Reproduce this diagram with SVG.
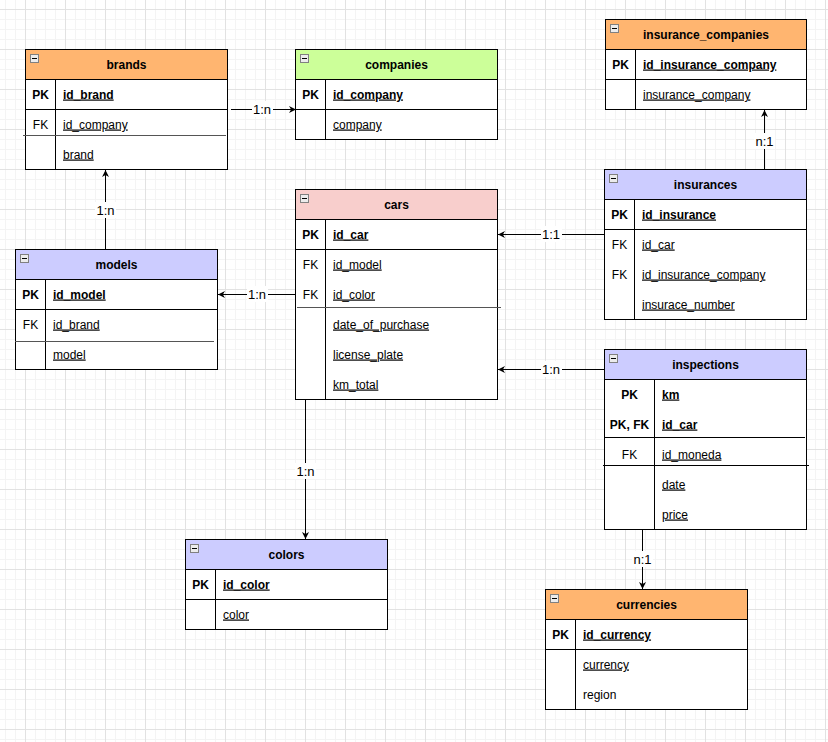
<svg xmlns="http://www.w3.org/2000/svg" width="828" height="742" viewBox="0 0 828 742">
<defs>
<pattern id="grid" x="25" y="9" width="40" height="40" patternUnits="userSpaceOnUse">
<rect x="0" y="0" width="40" height="40" fill="#ffffff"/>
<rect x="10" y="0" width="1" height="40" fill="#f4f4f4"/>
<rect x="20" y="0" width="1" height="40" fill="#f4f4f4"/>
<rect x="30" y="0" width="1" height="40" fill="#f4f4f4"/>
<rect x="0" y="10" width="40" height="1" fill="#f4f4f4"/>
<rect x="0" y="20" width="40" height="1" fill="#f4f4f4"/>
<rect x="0" y="30" width="40" height="1" fill="#f4f4f4"/>
<rect x="0" y="0" width="1" height="40" fill="#e2e2e2"/>
<rect x="0" y="0" width="40" height="1" fill="#e2e2e2"/>
</pattern>
<marker id="arr" viewBox="0 0 10 10" refX="10" refY="5" markerWidth="7" markerHeight="7" markerUnits="userSpaceOnUse" orient="auto">
<path d="M0,0 L10,5 L0,10 L3,5 z" fill="#000"/>
</marker>
<g id="minus">
<rect x="5.5" y="5.5" width="8" height="8" fill="#ececec" stroke="#808080"/>
<line x1="7" y1="9.5" x2="12" y2="9.5" stroke="#000" stroke-width="1"/>
</g>
</defs>
<style>
.box{fill:#fff;stroke:#000;stroke-width:1}
.hd{stroke:#000;stroke-width:1}
.ln{stroke:#000;stroke-width:1;fill:none}
.odd{stroke:#555;stroke-width:1;fill:none}
.t{font-family:"Liberation Sans",Arial,sans-serif;font-size:12px;fill:#000}
.h{font-weight:bold;text-anchor:middle}
.k{text-anchor:middle}
.b{font-weight:bold}
.u{text-decoration:underline}
.lbl{font-family:"Liberation Sans",Arial,sans-serif;font-size:13px;fill:#000;text-anchor:middle}
.conn{stroke:#000;stroke-width:1;fill:none;marker-end:url(#arr)}
</style>
<rect x="0" y="0" width="828" height="742" fill="url(#grid)"/>

<g id="connectors">
<line class="conn" x1="231" y1="109.5" x2="296" y2="109.5"/>
<rect x="252" y="101" width="21" height="16" fill="#fff"/>
<text class="lbl" x="262" y="114">1:n</text>

<line class="conn" x1="764.5" y1="169" x2="764.5" y2="110"/>
<rect x="754" y="133" width="21" height="16" fill="#fff"/>
<text class="lbl" x="764.5" y="146">n:1</text>

<line class="conn" x1="604" y1="234.5" x2="498" y2="234.5"/>
<rect x="541" y="226" width="21" height="16" fill="#fff"/>
<text class="lbl" x="551" y="239">1:1</text>

<line class="conn" x1="604" y1="369.5" x2="498" y2="369.5"/>
<rect x="541" y="361" width="21" height="16" fill="#fff"/>
<text class="lbl" x="551" y="374">1:n</text>

<line class="conn" x1="295" y1="294.5" x2="218" y2="294.5"/>
<rect x="247" y="286" width="21" height="16" fill="#fff"/>
<text class="lbl" x="257" y="299">1:n</text>

<line class="conn" x1="105.5" y1="249" x2="105.5" y2="170"/>
<rect x="95" y="202" width="21" height="16" fill="#fff"/>
<text class="lbl" x="105.5" y="215">1:n</text>

<line class="conn" x1="305.5" y1="400" x2="305.5" y2="539"/>
<rect x="295" y="463" width="21" height="16" fill="#fff"/>
<text class="lbl" x="305.5" y="476">1:n</text>

<line class="conn" x1="642.5" y1="529" x2="642.5" y2="589"/>
<rect x="632" y="551" width="21" height="16" fill="#fff"/>
<text class="lbl" x="642.5" y="564">n:1</text>
</g>

<g id="brands">
<rect class="box" x="25.5" y="49.5" width="202" height="120"/>
<rect class="hd" x="25.5" y="49.5" width="202" height="30" fill="#FFB570"/>
<use href="#minus" x="25" y="49"/>
<text class="t h" x="126.5" y="68.5">brands</text>
<line class="ln" x1="55.5" y1="79.5" x2="55.5" y2="169.5"/>
<line class="ln" x1="25.5" y1="109.5" x2="227.5" y2="109.5"/>
<line class="odd" x1="23" y1="135.5" x2="226" y2="135.5"/>
<text class="t k b" x="40.5" y="98.5">PK</text>
<text class="t b u" x="63" y="98.5">id_brand</text>
<text class="t k" x="40.5" y="128.5">FK</text>
<text class="t u" x="63" y="128.5">id_company</text>
<text class="t u" x="63" y="158.5">brand</text>
</g>

<g id="companies">
<rect class="box" x="295.5" y="49.5" width="202" height="90"/>
<rect class="hd" x="295.5" y="49.5" width="202" height="30" fill="#CCFF99"/>
<use href="#minus" x="295" y="49"/>
<text class="t h" x="396.5" y="68.5">companies</text>
<line class="ln" x1="325.5" y1="79.5" x2="325.5" y2="139.5"/>
<line class="ln" x1="295.5" y1="109.5" x2="497.5" y2="109.5"/>
<text class="t k b" x="310.5" y="98.5">PK</text>
<text class="t b u" x="333" y="98.5">id_company</text>
<text class="t u" x="333" y="128.5">company</text>
</g>

<g id="insurance_companies">
<rect class="box" x="605.5" y="19.5" width="201" height="90"/>
<rect class="hd" x="605.5" y="19.5" width="201" height="30" fill="#FFB570"/>
<use href="#minus" x="605" y="19"/>
<text class="t h" x="706" y="38.5">insurance_companies</text>
<line class="ln" x1="635.5" y1="49.5" x2="635.5" y2="109.5"/>
<line class="ln" x1="605.5" y1="79.5" x2="806.5" y2="79.5"/>
<text class="t k b" x="620.5" y="68.5">PK</text>
<text class="t b u" x="643" y="68.5">id_insurance_company</text>
<text class="t u" x="643" y="98.5">insurance_company</text>
</g>

<g id="insurances">
<rect class="box" x="604.5" y="169.5" width="202" height="150"/>
<rect class="hd" x="604.5" y="169.5" width="202" height="30" fill="#CCCCFF"/>
<use href="#minus" x="604" y="169"/>
<text class="t h" x="705.5" y="188.5">insurances</text>
<line class="ln" x1="634.5" y1="199.5" x2="634.5" y2="319.5"/>
<line class="ln" x1="604.5" y1="229.5" x2="806.5" y2="229.5"/>
<text class="t k b" x="619.5" y="218.5">PK</text>
<text class="t b u" x="642" y="218.5">id_insurance</text>
<text class="t k" x="619.5" y="248.5">FK</text>
<text class="t u" x="642" y="248.5">id_car</text>
<text class="t k" x="619.5" y="278.5">FK</text>
<text class="t u" x="642" y="278.5">id_insurance_company</text>
<text class="t u" x="642" y="308.5">insurace_number</text>
</g>

<g id="cars">
<rect class="box" x="295.5" y="189.5" width="202" height="210"/>
<rect class="hd" x="295.5" y="189.5" width="202" height="30" fill="#F8CECC"/>
<use href="#minus" x="295" y="189"/>
<text class="t h" x="396.5" y="208.5">cars</text>
<line class="ln" x1="325.5" y1="219.5" x2="325.5" y2="399.5"/>
<line class="ln" x1="295.5" y1="249.5" x2="497.5" y2="249.5"/>
<line class="odd" x1="297" y1="307.5" x2="501" y2="307.5"/>
<text class="t k b" x="310.5" y="238.5">PK</text>
<text class="t b u" x="333" y="238.5">id_car</text>
<text class="t k" x="310.5" y="268.5">FK</text>
<text class="t u" x="333" y="268.5">id_model</text>
<text class="t k" x="310.5" y="298.5">FK</text>
<text class="t u" x="333" y="298.5">id_color</text>
<text class="t u" x="333" y="328.5">date_of_purchase</text>
<text class="t u" x="333" y="358.5">license_plate</text>
<text class="t u" x="333" y="388.5">km_total</text>
</g>

<g id="models">
<rect class="box" x="15.5" y="249.5" width="202" height="120"/>
<rect class="hd" x="15.5" y="249.5" width="202" height="30" fill="#CCCCFF"/>
<use href="#minus" x="15" y="249"/>
<text class="t h" x="116.5" y="268.5">models</text>
<line class="ln" x1="45.5" y1="279.5" x2="45.5" y2="369.5"/>
<line class="ln" x1="15.5" y1="309.5" x2="217.5" y2="309.5"/>
<line class="odd" x1="15" y1="341.5" x2="214" y2="341.5"/>
<text class="t k b" x="30.5" y="298.5">PK</text>
<text class="t b u" x="53" y="298.5">id_model</text>
<text class="t k" x="30.5" y="328.5">FK</text>
<text class="t u" x="53" y="328.5">id_brand</text>
<text class="t u" x="53" y="358.5">model</text>
</g>

<g id="inspections">
<rect class="box" x="604.5" y="349.5" width="202" height="180"/>
<rect class="hd" x="604.5" y="349.5" width="202" height="30" fill="#CCCCFF"/>
<use href="#minus" x="604" y="349"/>
<text class="t h" x="705.5" y="368.5">inspections</text>
<line class="ln" x1="654.5" y1="379.5" x2="654.5" y2="529.5"/>
<line class="ln" x1="604" y1="437.5" x2="805" y2="437.5"/>
<line class="ln" x1="603" y1="465.5" x2="809" y2="465.5"/>
<text class="t k b" x="629.5" y="398.5">PK</text>
<text class="t b u" x="662" y="398.5">km</text>
<text class="t k b" x="629.5" y="428.5">PK, FK</text>
<text class="t b u" x="662" y="428.5">id_car</text>
<text class="t k" x="629.5" y="458.5">FK</text>
<text class="t u" x="662" y="458.5">id_moneda</text>
<text class="t u" x="662" y="488.5">date</text>
<text class="t u" x="662" y="518.5">price</text>
</g>

<g id="colors">
<rect class="box" x="185.5" y="539.5" width="202" height="90"/>
<rect class="hd" x="185.5" y="539.5" width="202" height="30" fill="#CCCCFF"/>
<use href="#minus" x="185" y="539"/>
<text class="t h" x="286.5" y="558.5">colors</text>
<line class="ln" x1="215.5" y1="569.5" x2="215.5" y2="629.5"/>
<line class="ln" x1="185.5" y1="599.5" x2="387.5" y2="599.5"/>
<text class="t k b" x="200.5" y="588.5">PK</text>
<text class="t b u" x="223" y="588.5">id_color</text>
<text class="t u" x="223" y="618.5">color</text>
</g>

<g id="currencies">
<rect class="box" x="545.5" y="589.5" width="202" height="120"/>
<rect class="hd" x="545.5" y="589.5" width="202" height="30" fill="#FFB570"/>
<use href="#minus" x="545" y="589"/>
<text class="t h" x="646.5" y="608.5">currencies</text>
<line class="ln" x1="575.5" y1="619.5" x2="575.5" y2="709.5"/>
<line class="ln" x1="545.5" y1="649.5" x2="747.5" y2="649.5"/>
<text class="t k b" x="560.5" y="638.5">PK</text>
<text class="t b u" x="583" y="638.5">id_currency</text>
<text class="t u" x="583" y="668.5">currency</text>
<text class="t" x="583" y="698.5">region</text>
</g>
</svg>
